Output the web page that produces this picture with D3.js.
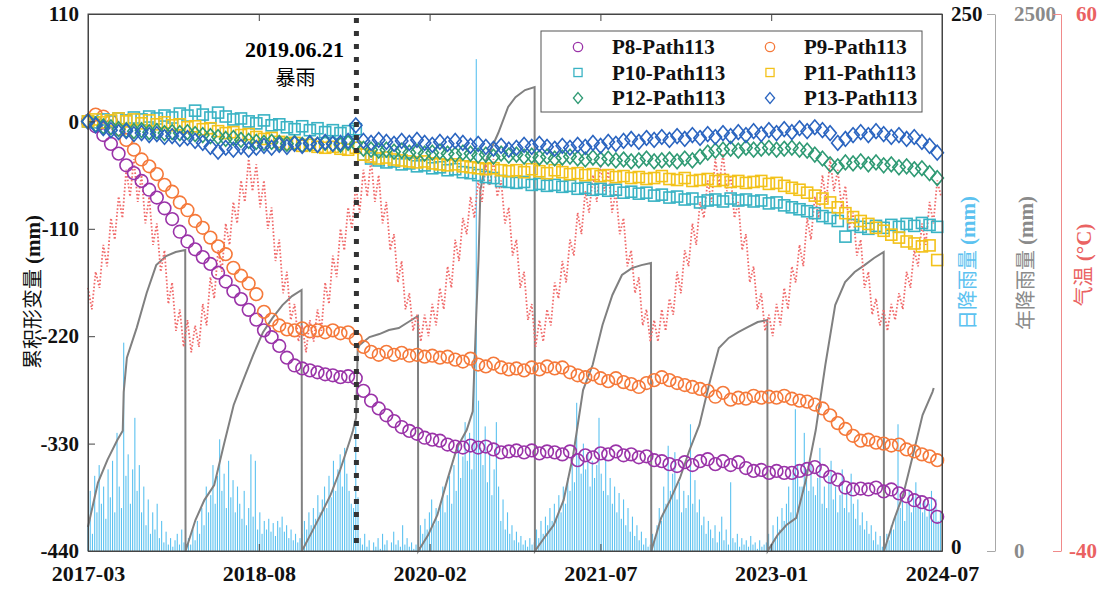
<!DOCTYPE html>
<html>
<head>
<meta charset="utf-8">
<script src="https://cdn.jsdelivr.net/npm/d3@7"></script>
<style>
  body { margin: 0; background: #fff; }
</style>
</head>
<body>
<script>
// InSAR samples: one value every 24 days from 2017-03-01 (mm)
var startDate = new Date(2017, 2, 1);
var endDate = new Date(2024, 6, 1);
var defStep = 24;

var p8 = [0, -5, -14, -23, -33, -45, -53, -61,
  -70, -78, -89, -100, -113, -123, -131, -139,
  -146, -155, -164, -174, -182, -193, -203, -214,
  -221, -230, -242, -250, -253, -255, -257, -259,
  -260, -262, -261, -263, -276, -286, -294, -301,
  -307, -313, -317, -320, -324, -326, -327, -331,
  -333, -334, -332, -334, -333, -336, -339, -338,
  -337, -339, -337, -340, -338, -339, -341, -338,
  -347, -342, -344, -340, -341, -338, -342, -341,
  -344, -343, -347, -348, -351, -353, -349, -352,
  -348, -346, -351, -348, -352, -349, -355, -358,
  -357, -360, -358, -360, -360, -358, -356, -354,
  -358, -364, -367, -375, -377, -376, -377, -375,
  -379, -377, -381, -384, -388, -390, -392, -405];

var p9 = [0, 7, 5, 0, -8, -19, -29, -39,
  -46, -54, -65, -72, -83, -91, -102, -109,
  -119, -128, -136, -150, -158, -166, -177, -195,
  -203, -209, -213, -214, -212, -215, -214, -216,
  -214, -217, -216, -223, -231, -236, -239, -236,
  -239, -237, -240, -239, -241, -240, -242, -241,
  -244, -246, -243, -249, -251, -248, -252, -254,
  -253, -255, -252, -254, -251, -253, -252, -257,
  -260, -262, -259, -263, -266, -263, -267, -269,
  -272, -268, -265, -262, -265, -268, -270, -272,
  -274, -276, -282, -278, -285, -283, -284, -281,
  -283, -282, -283, -281, -284, -286, -287, -290,
  -294, -301, -309, -315, -322, -327, -326, -329,
  -330, -332, -331, -336, -338, -341, -343, -347];

var p10 = [0, -1, 2, 0, 3, 1, 4, 2,
  5, 3, 6, 4, 8, 6, 11, 7,
  4, 9, 5, 2, 3, 0, -2, 1,
  -4, -3, -6, -8, -5, -9, -7, -11,
  -9, -12, -10, -8, -34, -38, -40, -42,
  -41, -44, -43, -46, -45, -48, -47, -50,
  -49, -52, -53, -55, -57, -58, -61, -62,
  -63, -62, -65, -64, -66, -65, -67, -66,
  -69, -68, -70, -69, -71, -70, -73, -72,
  -74, -73, -76, -75, -78, -77, -80, -79,
  -83, -81, -80, -82, -79, -81, -80, -82,
  -81, -84, -83, -86, -88, -90, -92, -94,
  -97, -99, -102, -118, -106, -108, -110, -107,
  -109, -106, -108, -105, -107, -104, -106, -108];

var p11 = [0, 2, -1, 1, 3, 0, 2, -2,
  1, -3, -1, -4, -3, -6, -5, -8,
  -7, -10, -12, -11, -14, -13, -16, -18,
  -17, -21, -23, -22, -25, -24, -26, -27,
  -26, -28, -29, -27, -34, -36, -38, -37,
  -39, -40, -41, -42, -41, -43, -44, -45,
  -44, -46, -47, -48, -49, -48, -50, -51,
  -50, -52, -49, -51, -53, -50, -52, -54,
  -53, -55, -54, -56, -55, -57, -56, -58,
  -57, -59, -58, -56, -59, -60, -58, -61,
  -60, -59, -61, -60, -62, -61, -63, -62,
  -61, -64, -63, -66, -68, -70, -73, -76,
  -79, -83, -88, -94, -98, -102, -105, -109,
  -112, -116, -119, -123, -125, -128, -127, -142];

var p12 = [0, -3, -5, -6, -8, -9, -10, -9,
  -11, -10, -12, -11, -12, -11, -13, -14,
  -15, -16, -18, -17, -19, -20, -21, -22,
  -21, -22, -23, -22, -24, -23, -24, -22,
  -23, -24, -22, -23, -28, -29, -30, -29,
  -31, -30, -32, -31, -33, -32, -31, -33,
  -34, -32, -33, -35, -34, -36, -33, -35,
  -34, -36, -35, -37, -36, -38, -37, -36,
  -38, -39, -37, -39, -38, -40, -39, -41,
  -40, -38, -41, -40, -39, -41, -38, -40,
  -36, -32, -30, -29, -28, -30, -27, -29,
  -28, -27, -29, -28, -27, -29, -30, -34,
  -38, -44, -46, -42, -43, -41, -44, -42,
  -45, -44, -47, -46, -49, -48, -53, -58];

var p13 = [0, -4, -7, -9, -11, -10, -13, -12,
  -14, -13, -16, -15, -18, -17, -20, -22,
  -26, -31, -27, -29, -26, -29, -27, -25,
  -27, -24, -26, -23, -25, -22, -24, -21,
  -23, -22, -20, -4, -20, -22, -19, -21,
  -23, -20, -22, -19, -22, -24, -21, -23,
  -20, -22, -25, -23, -26, -28, -25, -29,
  -27, -24, -26, -23, -26, -28, -25, -27,
  -24, -26, -22, -25, -21, -23, -20, -18,
  -21, -17, -19, -16, -19, -15, -18, -14,
  -17, -13, -16, -12, -15, -11, -14, -10,
  -13, -9, -12, -8, -11, -7, -10, -6,
  -9, -12, -22, -18, -14, -11, -14, -10,
  -13, -16, -14, -18, -16, -21, -25, -32];

var seriesNames = ["P8-Path113", "P9-Path113", "P10-Path113", "P11-Path113", "P12-Path113", "P13-Path113"];
var seriesValues = [p8, p9, p10, p11, p12, p13];
var seriesColors = ["#9a33a8", "#f5793a", "#3ab3c4", "#f3c21a", "#2f9a74", "#2b65c0"];
var seriesShapes = ["circle", "circle", "square", "square", "diamond", "diamond"];

// air temperature, one reading every 12 days from 2017-03-01 (°C)
var tempStep = 12;
var temperature = [
  9, 5, 12, 9, 17, 13, 22, 18, 26, 22, 31, 26, 33, 25, 30, 21, 26, 17, 21, 12, 16, 6, 10, 1, 5, -2,
  3, -3, 2, -2, 6, 2, 11, 7, 16, 12, 21, 17, 25, 21, 29, 25, 33, 27, 32, 24, 29, 20, 24, 14, 18, 8, 12, 3, 6, -1,
  2, -3, 3, -1, 5, 1, 10, 6, 15, 11, 20, 16, 24, 20, 28, 23, 31, 26, 33, 25, 30, 21, 25, 16, 19, 10, 14, 5, 8, 1, 4,
  -1, 4, 0, 6, 2, 9, 5, 13, 9, 18, 14, 22, 19, 26, 22, 29, 25, 32, 28, 33, 26, 29, 21, 24, 15, 18, 9, 12, 3, 6,
  -2, 3, -1, 5, 2, 10, 7, 14, 10, 18, 15, 23, 19, 27, 23, 30, 25, 32, 27, 31, 23, 27, 19, 22, 13, 16, 8, 11, 2, 5, -1,
  3, -1, 5, 1, 7, 4, 12, 8, 16, 13, 21, 17, 25, 22, 29, 25, 33, 28, 34, 27, 30, 22, 25, 16, 19, 10, 13, 5, 8, 1,
  4, 0, 6, 2, 9, 5, 13, 10, 17, 13, 22, 18, 26, 22, 30, 25, 33, 27, 31, 24, 28, 20, 23, 15, 18, 9, 12, 4, 7, 2,
  5, 1, 6, 3, 8, 5, 12, 9, 16, 13, 21, 17, 25, 21, 29, 26];

// daily rainfall, one bar every 7 days from 2017-03-01 (mm)
var rainStep = 7;
var dailyRain = [
  12, 28, 8, 35, 18, 40, 22, 30, 15, 38, 25, 42, 18, 55, 30, 20, 97, 35, 45, 22, 38, 62, 28, 40, 18, 30, 12, 24, 8, 18, 10, 22, 6, 14, 4, 9, 3, 6, 2, 5, 8, 3, 10, 4,
  2, 6, 3, 10, 5, 14, 8, 20, 12, 30, 18, 26, 40, 22, 35, 52, 28, 36, 20, 42, 25, 33, 18, 30, 22, 15, 28, 12, 20, 45, 16, 42, 10, 18, 8, 14, 10, 15, 9, 13, 7, 14, 11, 16, 9, 12, 6, 10, 5, 8, 4, 6,
  8, 14, 10, 18, 12, 20, 15, 26, 18, 24, 30, 20, 35, 25, 42, 28, 38, 45, 30, 48, 36, 28, 22, 20, 58, 25, 6, 3, 8, 2, 5, 0, 4, 2, 6, 1, 8, 3, 5, 0, 4, 9, 3, 5, 2, 12, 3, 6, 2, 4, 1, 3,
  5, 12, 8, 15, 10, 18, 24, 12, 20, 14, 22, 30, 18, 26, 35, 22, 40, 28, 50, 34, 44, 60, 42, 55, 38, 90, 229, 70, 48, 40, 58, 32, 45, 26, 38, 60, 30, 14, 24, 10, 18, 8, 12, 5, 9, 4, 7, 3, 5, 2, 6, 3,
  4, 10, 6, 14, 8, 16, 12, 20, 14, 22, 16, 26, 18, 30, 22, 34, 28, 40, 32, 69, 44, 36, 50, 38, 46, 30, 42, 34, 40, 62, 36, 28, 44, 26, 34, 22, 30, 18, 27, 15, 24, 12, 20, 9, 16, 7, 12, 5, 9, 3, 6, 2,
  3, 8, 5, 12, 20, 14, 30, 22, 49, 28, 36, 46, 24, 32, 18, 28, 20, 26, 59, 22, 33, 18, 24, 12, 16, 8, 14, 10, 6, 12, 4, 9, 16, 5, 10, 3, 32, 6, 4, 8, 2, 6, 3, 5, 2, 7, 3, 4, 1, 5, 2, 3,
  4, 8, 3, 12, 6, 16, 10, 20, 14, 22, 30, 18, 36, 66, 40, 30, 30, 55, 38, 28, 41, 30, 26, 34, 48, 22, 30, 20, 35, 42, 24, 30, 18, 26, 38, 20, 28, 18, 36, 22, 15, 24, 12, 18, 10, 14, 8, 12, 5, 9, 3, 7, 2,
  3, 8, 5, 12, 10, 16, 59, 20, 24, 14, 22, 28, 18, 25, 32, 20, 26, 18, 24, 16, 22, 28, 20, 24, 14, 18];

// cumulative rainfall within each year (mm)
var annualDates = [
  "2017-03-01", "2017-04-01", "2017-05-01", "2017-06-01", "2017-06-18", "2017-06-21", "2017-07-01", "2017-08-01", "2017-09-01", "2017-10-01", "2017-11-01", "2017-12-01", "2017-12-31",
  "2018-01-01", "2018-02-01", "2018-03-01", "2018-04-01", "2018-05-01", "2018-06-01", "2018-07-01", "2018-08-01", "2018-09-01", "2018-10-01", "2018-11-01", "2018-12-01", "2018-12-31",
  "2019-01-01", "2019-02-01", "2019-03-01", "2019-04-01", "2019-05-01", "2019-06-01", "2019-06-10", "2019-06-20", "2019-06-25", "2019-07-01", "2019-08-01", "2019-09-01", "2019-10-01", "2019-11-01", "2019-12-01", "2019-12-31",
  "2020-01-01", "2020-02-01", "2020-03-01", "2020-04-01", "2020-05-01", "2020-06-01", "2020-06-20", "2020-07-01", "2020-07-08", "2020-07-14", "2020-08-01", "2020-09-08", "2020-10-09", "2020-11-01", "2020-12-01", "2020-12-31",
  "2021-01-01", "2021-02-01", "2021-03-01", "2021-04-01", "2021-05-01", "2021-06-01", "2021-07-01", "2021-08-01", "2021-09-01", "2021-10-01", "2021-11-01", "2021-12-01", "2021-12-31",
  "2022-01-01", "2022-02-01", "2022-03-01", "2022-04-01", "2022-05-01", "2022-06-01", "2022-07-01", "2022-08-01", "2022-09-01", "2022-10-01", "2022-11-01", "2022-12-01", "2022-12-31",
  "2023-01-01", "2023-02-01", "2023-03-01", "2023-04-01", "2023-05-01", "2023-06-01", "2023-07-01", "2023-08-01", "2023-09-01", "2023-10-01", "2023-11-01", "2023-12-01", "2023-12-31",
  "2024-01-01", "2024-02-01", "2024-03-01", "2024-04-01", "2024-05-01", "2024-06-01", "2024-06-05"];
var annualRain = [
  112, 317, 424, 517, 560, 740, 900, 1040, 1201, 1331, 1373, 1392, 1401,
  0, 144, 237, 307, 493, 680, 796, 912, 1019, 1085, 1145, 1187, 1215,
  0, 88, 168, 261, 377, 517, 560, 620, 936, 959, 996, 1010, 1029, 1038, 1066, 1094,
  0, 74, 168, 330, 479, 563, 650, 1100, 1355, 1680, 1820, 1946, 2067, 2113, 2146, 2160,
  0, 65, 121, 237, 447, 749, 866, 1052, 1192, 1285, 1317, 1331, 1341,
  0, 154, 237, 340, 470, 587, 773, 945, 992, 1019, 1043, 1066, 1075,
  0, 74, 121, 154, 330, 563, 866, 1145, 1252, 1299, 1331, 1364, 1392,
  0, 144, 261, 447, 633, 740, 759];

var xTickLabels = ["2017-03", "2018-08", "2020-02", "2021-07", "2023-01", "2024-07"];
var defTicks = [110, 0, -110, -220, -330, -440];
var stormDate = new Date(2019, 5, 21);

var svgWidth = 1105;
var svgHeight = 589;
var chartMargin = {top: 14, right: 163, bottom: 38, left: 88};
var chartWidth = svgWidth - chartMargin.left - chartMargin.right;
var chartHeight = svgHeight - chartMargin.top - chartMargin.bottom;

var serif = "'Liberation Serif', 'Times New Roman', serif";
var cjk = "'Noto Sans CJK SC', sans-serif";

var svg = d3.select("body").append("svg")
    .attr("width", svgWidth)
    .attr("height", svgHeight);

var chartGroup = svg.append("g")
    .attr("transform", `translate(${chartMargin.left}, ${chartMargin.top})`);

// scales
var xTimeScale = d3.scaleTime().domain([startDate, endDate]).range([0, chartWidth]);
var yDefScale = d3.scaleLinear().domain([-440, 110]).range([chartHeight, 0]);
var yRainScale = d3.scaleLinear().domain([0, 250]).range([chartHeight, 0]);
var yAnnScale = d3.scaleLinear().domain([0, 2500]).range([chartHeight, 0]);
var yTempScale = d3.scaleLinear().domain([-40, 60]).range([chartHeight, 0]);

// daily rain bars
chartGroup.append("g").selectAll("rect")
    .data(dailyRain)
    .enter()
    .append("rect")
    .attr("x", (d, i) => xTimeScale(d3.timeDay.offset(startDate, i * rainStep)) - 0.55)
    .attr("y", d => yRainScale(d))
    .attr("width", 1.1)
    .attr("height", d => chartHeight - yRainScale(d))
    .attr("fill", "#5cc2f0");

// yearly cumulative rainfall
var parseDay = d3.timeParse("%Y-%m-%d");
var annLine = d3.line()
    .x((d, i) => xTimeScale(parseDay(annualDates[i])))
    .y(d => yAnnScale(d));
chartGroup.append("path")
    .datum(annualRain)
    .attr("d", annLine)
    .attr("fill", "none")
    .attr("stroke", "#808080")
    .attr("stroke-width", 2);

// temperature
var tempLine = d3.line()
    .x((d, i) => xTimeScale(d3.timeDay.offset(startDate, i * tempStep)))
    .y(d => yTempScale(d));
chartGroup.append("path")
    .datum(temperature)
    .attr("d", tempLine)
    .attr("fill", "none")
    .attr("stroke", "#f06a6a")
    .attr("stroke-width", 1.8)
    .attr("stroke-dasharray", "1.6,2");

// marker drawing helper
function drawMarker(sel, shape, color, size, width) {
  if (shape === "circle") {
    sel.append("circle").attr("r", size * 0.55);
  } else if (shape === "square") {
    sel.append("rect")
        .attr("x", -size * 0.48).attr("y", -size * 0.48)
        .attr("width", size * 0.96).attr("height", size * 0.96);
  } else {
    var h = size * 0.64, w = size * 0.54;
    sel.append("path").attr("d", `M0,${-h}L${w},0L0,${h}L${-w},0Z`);
  }
  sel.selectAll("*")
      .attr("fill", "none")
      .attr("stroke", color)
      .attr("stroke-width", width);
}

seriesValues.forEach(function (vals, s) {
  var g = chartGroup.append("g");
  vals.forEach(function (v, i) {
    var m = g.append("g")
        .attr("transform", `translate(${xTimeScale(d3.timeDay.offset(startDate, i * defStep))}, ${yDefScale(v)})`);
    drawMarker(m, seriesShapes[s], seriesColors[s], 11.5, 1.6);
  });
});

// rainstorm marker line
var xStorm = xTimeScale(stormDate);
chartGroup.append("line")
    .attr("x1", xStorm).attr("x2", xStorm)
    .attr("y1", 4).attr("y2", chartHeight)
    .attr("stroke", "#333")
    .attr("stroke-width", 5)
    .attr("stroke-dasharray", "5,8");

chartGroup.append("text")
    .attr("x", xStorm - 62).attr("y", 43)
    .attr("text-anchor", "middle")
    .style("font-family", serif).style("font-weight", "bold").style("font-size", "22px")
    .text("2019.06.21");
chartGroup.append("text")
    .attr("x", xStorm - 61).attr("y", 71)
    .attr("text-anchor", "middle")
    .style("font-family", cjk).style("font-size", "20px")
    .text("暴雨");

// plot frame
chartGroup.append("rect")
    .attr("width", chartWidth).attr("height", chartHeight)
    .attr("fill", "none").attr("stroke", "#444").attr("stroke-width", 1);

// axes
var xTickDates = xTickLabels.map((d, i) =>
    new Date(+startDate + i * (endDate - startDate) / (xTickLabels.length - 1)));
var plainNum = d => String(d);

var bottomAxis = d3.axisBottom(xTimeScale)
    .tickValues(xTickDates)
    .tickFormat((d, i) => xTickLabels[i])
    .tickSizeInner(-7).tickSizeOuter(0).tickPadding(14);
var topAxis = d3.axisTop(xTimeScale)
    .tickValues(xTickDates).tickFormat("")
    .tickSizeInner(-7).tickSizeOuter(0);
var leftAxis = d3.axisLeft(yDefScale)
    .tickValues(defTicks).tickFormat(plainNum)
    .tickSizeInner(-7).tickSizeOuter(0).tickPadding(9);
var rainAxis = d3.axisRight(yRainScale)
    .tickValues([0, 250]).tickFormat(plainNum).tickSize(0).tickPadding(9);
var annAxis = d3.axisRight(yAnnScale)
    .tickValues([0, 2500]).tickFormat(plainNum)
    .tickSizeInner(-8).tickSizeOuter(0).tickPadding(19);
var tempAxis = d3.axisRight(yTempScale)
    .tickValues([-40, 60]).tickFormat(plainNum)
    .tickSizeInner(-8).tickSizeOuter(0).tickPadding(36);

function styleAxis(g, color, lineColor, size) {
  g.selectAll("text")
      .style("font-family", serif)
      .style("font-weight", "bold")
      .style("font-size", size + "px")
      .attr("fill", color);
  g.selectAll("line").attr("stroke", lineColor);
  g.select(".domain").attr("stroke", lineColor);
}

chartGroup.append("g")
    .attr("transform", `translate(0, ${chartHeight})`)
    .call(bottomAxis)
    .call(g => styleAxis(g, "#111", "#444", 22));
chartGroup.append("g")
    .call(topAxis)
    .call(g => styleAxis(g, "#111", "#444", 22));
chartGroup.append("g")
    .call(leftAxis)
    .call(g => styleAxis(g, "#111", "#444", 21));
chartGroup.append("g")
    .attr("transform", `translate(${chartWidth}, 0)`)
    .call(rainAxis)
    .call(g => styleAxis(g, "#111", "#444", 21))
    .call(g => g.selectAll(".tick text").attr("dy", (d) => d === 0 ? "0.1em" : "0.32em"));
chartGroup.append("g")
    .attr("transform", `translate(${chartWidth + 53}, 0)`)
    .call(annAxis)
    .call(g => styleAxis(g, "#8a8a8a", "#a8a8a8", 21));
chartGroup.append("g")
    .attr("transform", `translate(${chartWidth + 119}, 0)`)
    .call(tempAxis)
    .call(g => styleAxis(g, "#ea6262", "#f08a8a", 21))
    .call(g => g.selectAll("text").attr("text-anchor", "end"));

// axis titles (rotated)
function axisTitle(x, y, cn, unit, color) {
  var t = svg.append("text")
      .attr("transform", `translate(${x}, ${y}) rotate(-90)`)
      .attr("text-anchor", "middle")
      .attr("fill", color);
  t.append("tspan").style("font-family", cjk).style("font-size", "20px").text(cn);
  t.append("tspan").style("font-family", serif).style("font-weight", "bold").style("font-size", "21px").text(" " + unit);
}
axisTitle(40, 292, "累积形变量", "(mm)", "#111");
axisTitle(975, 263, "日降雨量", "(mm)", "#5cc2f0");
axisTitle(1033, 263, "年降雨量", "(mm)", "#8a8a8a");
axisTitle(1091, 265, "气温", "(°C)", "#ea6262");

// legend
var legend = svg.append("g").attr("transform", "translate(541, 31)");
legend.append("rect")
    .attr("width", 381).attr("height", 81)
    .attr("fill", "#fff").attr("stroke", "#555").attr("stroke-width", 1);
seriesNames.forEach(function (name, i) {
  var col = i % 2, row = Math.floor(i / 2);
  var item = legend.append("g")
      .attr("transform", `translate(${37 + col * 192}, ${16 + row * 25.5})`);
  drawMarker(item.append("g"), seriesShapes[i], seriesColors[i], 8.5, 1.3);
  item.append("text")
      .attr("x", 34).attr("y", 7)
      .style("font-family", serif).style("font-weight", "bold").style("font-size", "21px")
      .attr("fill", "#111")
      .text(name);
});
</script>
</body>
</html>
